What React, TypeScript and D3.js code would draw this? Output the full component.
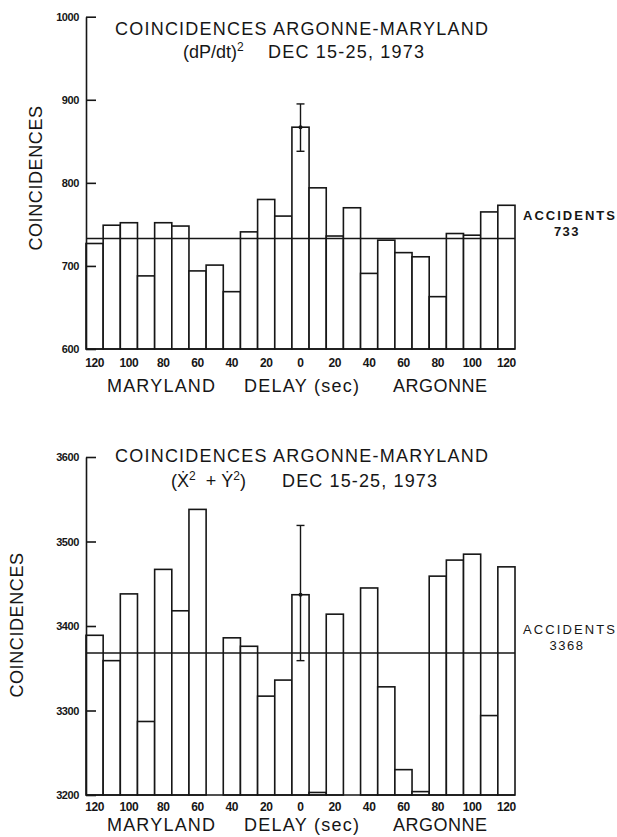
import React, { useEffect, useRef } from "react";
import * as d3 from "d3";

// delay in seconds: negative = Maryland leads, positive = Argonne leads
const delays = [-120, -110, -100, -90, -80, -70, -60, -50, -40, -30, -20, -10, 0, 10, 20, 30, 40, 50, 60, 70, 80, 90, 100, 110, 120];
const labelDelays = [-120, -100, -80, -60, -40, -20, 0, 20, 40, 60, 80, 100, 120];

// (dP/dt)^2 coincidences
const pressureCounts = [727, 749, 752, 688, 752, 748, 694, 701, 669, 741, 780, 760, 867, 794, 736, 770, 691, 731, 716, 711, 663, 739, 737, 765, 773];
const pressureTicks = [600, 700, 800, 900, 1000];
const pressureAccidents = 733;
const pressureError = [838, 895];

// (X'^2 + Y'^2) coincidences, bars below 3200 fall off the plot
const velocityCounts = [3389, 3359, 3438, 3287, 3467, 3418, 3538, 3195, 3386, 3376, 3317, 3336, 3437, 3203, 3414, 3195, 3445, 3328, 3230, 3204, 3459, 3478, 3485, 3294, 3470];
const velocityTicks = [3200, 3300, 3400, 3500, 3600];
const velocityAccidents = 3368;
const velocityError = [3359, 3519];

const FONT = "'Liberation Sans', Arial, Helvetica, sans-serif";
const INK = "#161616";

type Panel = {
  counts: number[];
  ticks: number[];
  accidents: number;
  error: number[];
  top: number;
  bottom: number;
  titleY: number;
  yLabel: [number, number];
  tickPad: number;
  axisLabelY: number;
  accY: number;
  accBold: boolean;
  subtitle: (t: any) => void;
};

const LEFT = 86;
const RIGHT = 515;

function drawPanel(svg: any, p: Panel) {
  const g = svg.append("g");
  const x = d3.scaleBand<number>().domain(delays).range([LEFT, RIGHT]).padding(0);
  const y = d3.scaleLinear().domain([p.ticks[0], p.ticks[p.ticks.length - 1]]).range([p.bottom, p.top]);
  const yMin = p.ticks[0];

  const bars = delays.map((d, i) => ({ delay: d, value: p.counts[i] })).filter(d => d.value > yMin);

  g.selectAll("rect.bar")
    .data(bars)
    .join("rect")
    .attr("class", "bar")
    .attr("x", (d: any) => x(d.delay))
    .attr("y", (d: any) => y(d.value))
    .attr("width", x.bandwidth())
    .attr("height", (d: any) => y(yMin) - y(d.value))
    .attr("fill", "white")
    .attr("stroke", INK)
    .attr("stroke-width", 1.6);

  // baseline
  g.append("line")
    .attr("x1", LEFT).attr("x2", RIGHT)
    .attr("y1", y(yMin)).attr("y2", y(yMin))
    .attr("stroke", INK).attr("stroke-width", 1.6);

  // accidental coincidence level
  g.append("line")
    .attr("x1", LEFT).attr("x2", RIGHT)
    .attr("y1", y(p.accidents)).attr("y2", y(p.accidents))
    .attr("stroke", INK).attr("stroke-width", 1.6);

  // error bar on the zero-delay bin
  const cx = (x(0) as number) + x.bandwidth() / 2;
  const eg = g.append("g").attr("stroke", INK).attr("stroke-width", 1.4);
  eg.append("line").attr("x1", cx).attr("x2", cx).attr("y1", y(p.error[0])).attr("y2", y(p.error[1]));
  p.error.forEach(v => {
    eg.append("line").attr("x1", cx - 4).attr("x2", cx + 4).attr("y1", y(v)).attr("y2", y(v));
  });
  g.append("circle").attr("cx", cx).attr("cy", y(p.counts[delays.indexOf(0)])).attr("r", 2).attr("fill", INK);

  // y axis, ticks pointing inward
  const yAxis = d3.axisLeft(y).tickValues(p.ticks).tickSizeInner(-10).tickSizeOuter(0).tickPadding(7).tickFormat(d3.format("d"));
  g.append("g")
    .attr("transform", `translate(${LEFT},0)`)
    .call(yAxis)
    .call((a: any) => {
      a.select(".domain").attr("stroke", INK).attr("stroke-width", 1.6);
      a.selectAll(".tick line").attr("stroke", INK).attr("stroke-width", 1.6);
      a.selectAll("text").attr("font-family", FONT).attr("font-size", 11).attr("font-weight", "bold")
        .attr("fill", INK).attr("letter-spacing", -0.4);
    });

  // x tick labels (absolute delay)
  const xAxis = d3.axisBottom(x).tickValues(labelDelays).tickSize(0).tickPadding(p.tickPad).tickFormat((d: any) => String(Math.abs(d)));
  g.append("g")
    .attr("transform", `translate(0,${y(yMin)})`)
    .call(xAxis)
    .call((a: any) => {
      a.select(".domain").remove();
      a.selectAll("text").attr("font-family", FONT).attr("font-size", 12).attr("font-weight", "bold")
        .attr("fill", INK).attr("letter-spacing", -0.4);
    });

  const text = (tx: number, ty: number, s: string, len?: number) => {
    const t = g.append("text").attr("x", tx).attr("y", ty)
      .attr("font-family", FONT).attr("font-size", 18).attr("fill", INK).text(s);
    if (len) t.attr("textLength", len).attr("lengthAdjust", "spacing");
    return t;
  };

  text(107, p.axisLabelY, "MARYLAND", 108);
  text(244, p.axisLabelY, "DELAY (sec)", 115);
  text(393, p.axisLabelY, "ARGONNE", 94);

  // titles
  text(115, p.titleY, "COINCIDENCES ARGONNE-MARYLAND", 373);
  p.subtitle(text);

  // y axis title
  g.append("text")
    .attr("transform", `translate(${p.yLabel[0]},${p.yLabel[1]}) rotate(-90)`)
    .attr("text-anchor", "middle")
    .attr("dominant-baseline", "central")
    .attr("font-family", FONT).attr("font-size", 18).attr("fill", INK)
    .attr("letter-spacing", 0.6)
    .text("COINCIDENCES");

  // accidentals label
  g.append("text").attr("x", 523).attr("y", p.accY)
    .attr("font-family", FONT).attr("font-size", 13).attr("font-weight", p.accBold ? "bold" : "normal")
    .attr("fill", INK).attr("textLength", 92).attr("lengthAdjust", "spacing").text("ACCIDENTS");
  g.append("text").attr("x", 567).attr("y", p.accY + 16).attr("text-anchor", "middle")
    .attr("font-family", FONT).attr("font-size", 13).attr("font-weight", p.accBold ? "bold" : "normal")
    .attr("fill", INK).attr("letter-spacing", 1.5).text(String(p.accidents));
}

const App = () => {
  const svgRef = useRef<SVGSVGElement>(null);

  useEffect(() => {
    const svg = d3.select(svgRef.current);
    svg.selectAll("*").remove();

    drawPanel(svg, {
      counts: pressureCounts,
      ticks: pressureTicks,
      accidents: pressureAccidents,
      error: pressureError,
      top: 16.7,
      bottom: 349,
      titleY: 35,
      yLabel: [35.5, 178],
      tickPad: 9,
      axisLabelY: 391.5,
      accY: 220,
      accBold: true,
      subtitle: (text) => {
        const t = text(183, 58, "(dP/dt)");
        t.append("tspan").attr("dy", -7).attr("font-size", 12).text("2");
        text(268, 58, "DEC 15-25, 1973", 156);
      },
    });

    drawPanel(svg, {
      counts: velocityCounts,
      ticks: velocityTicks,
      accidents: velocityAccidents,
      error: velocityError,
      top: 457,
      bottom: 795,
      titleY: 462,
      yLabel: [17, 625],
      tickPad: 7.5,
      axisLabelY: 831,
      accY: 634,
      accBold: false,
      subtitle: (text) => {
        const t = text(171, 487, "(\u1E8A");
        t.append("tspan").attr("dy", -7).attr("font-size", 12).text("2");
        t.append("tspan").attr("dy", 7).text("\u00A0 + \u1E8E");
        t.append("tspan").attr("dy", -7).attr("font-size", 12).text("2");
        t.append("tspan").attr("dy", 7).text(")");
        text(282, 487, "DEC 15-25, 1973", 155);
      },
    });
  }, []);

  return (
    <svg
      ref={svgRef}
      width={617}
      height={837}
      style={{ position: "absolute", left: 0, top: 0, background: "white", display: "block" }}
    />
  );
};

export default App;
